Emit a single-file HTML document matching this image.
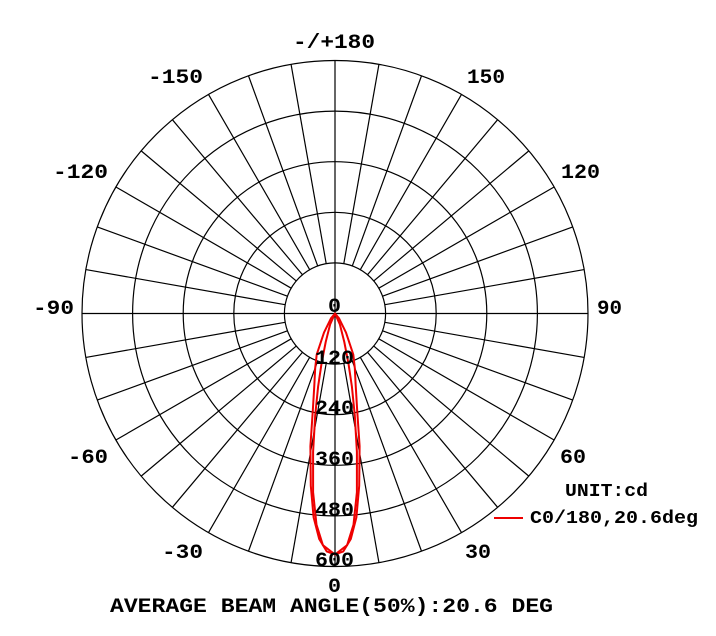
<!DOCTYPE html>
<html><head><style>html,body{margin:0;padding:0;background:#fff}</style></head>
<body>
<svg width="716" height="631" xmlns="http://www.w3.org/2000/svg" font-family="Liberation Mono, monospace" font-weight="bold">
<defs><line id="sp" x1="335" y1="262.9" x2="335" y2="60.5" stroke="#000" stroke-width="1.2"/></defs>
<rect width="716" height="631" fill="#fff"/>
<g stroke="#000" stroke-width="1.2" fill="none">
<circle cx="335" cy="313.5" r="50.6"/><circle cx="335" cy="313.5" r="101.2"/><circle cx="335" cy="313.5" r="151.8"/><circle cx="335" cy="313.5" r="202.4"/><circle cx="335" cy="313.5" r="253"/>
<line x1="335" y1="60.5" x2="335" y2="566.5"/><line x1="82" y1="313.5" x2="588" y2="313.5"/>
</g>
<use href="#sp" transform="rotate(10 335 313.5)"/><use href="#sp" transform="rotate(20 335 313.5)"/><use href="#sp" transform="rotate(30 335 313.5)"/><use href="#sp" transform="rotate(40 335 313.5)"/><use href="#sp" transform="rotate(50 335 313.5)"/><use href="#sp" transform="rotate(60 335 313.5)"/><use href="#sp" transform="rotate(70 335 313.5)"/><use href="#sp" transform="rotate(80 335 313.5)"/>
<use href="#sp" transform="rotate(100 335 313.5)"/><use href="#sp" transform="rotate(110 335 313.5)"/><use href="#sp" transform="rotate(120 335 313.5)"/><use href="#sp" transform="rotate(130 335 313.5)"/><use href="#sp" transform="rotate(140 335 313.5)"/><use href="#sp" transform="rotate(150 335 313.5)"/><use href="#sp" transform="rotate(160 335 313.5)"/><use href="#sp" transform="rotate(170 335 313.5)"/>
<use href="#sp" transform="rotate(190 335 313.5)"/><use href="#sp" transform="rotate(200 335 313.5)"/><use href="#sp" transform="rotate(210 335 313.5)"/><use href="#sp" transform="rotate(220 335 313.5)"/><use href="#sp" transform="rotate(230 335 313.5)"/><use href="#sp" transform="rotate(240 335 313.5)"/><use href="#sp" transform="rotate(250 335 313.5)"/><use href="#sp" transform="rotate(260 335 313.5)"/>
<use href="#sp" transform="rotate(280 335 313.5)"/><use href="#sp" transform="rotate(290 335 313.5)"/><use href="#sp" transform="rotate(300 335 313.5)"/><use href="#sp" transform="rotate(310 335 313.5)"/><use href="#sp" transform="rotate(320 335 313.5)"/><use href="#sp" transform="rotate(330 335 313.5)"/><use href="#sp" transform="rotate(340 335 313.5)"/><use href="#sp" transform="rotate(350 335 313.5)"/>
<g stroke="#e00" stroke-width="2" fill="none" stroke-linejoin="round">
<polygon points="335,554.5 343.3,551.4 350.8,539 356.4,517.4 359.2,485.8 359.6,446.2 357.1,409 355.7,385.6 354.8,368 353.3,354.6 346,332.6 338.9,318.1 335,313.5 331.1,318.1 324,332.6 316.7,354.6 315.2,368 314.3,385.6 312.9,409 310.4,446.2 310.8,485.8 313.6,517.4 319.2,539 326.7,551.4"/>
<polygon points="335,554.5 347.1,545.2 353.5,524.7 356.9,492.2 356.9,451.8 354.8,415.6 351.9,386.6 348.5,363.7 344.3,342 339.9,324.5 335,313.5 330.1,324.5 325.7,342 321.5,363.7 318.1,386.6 315.2,415.6 313.1,451.8 313.1,492.2 316.5,524.7 322.9,545.2"/>
</g>
<g font-size="20" fill="#000">
<text x="293" y="48" textLength="82" lengthAdjust="spacingAndGlyphs">-/+180</text>
<text x="148" y="83" textLength="55" lengthAdjust="spacingAndGlyphs">-150</text>
<text x="467" y="83" textLength="38" lengthAdjust="spacingAndGlyphs">150</text>
<text x="53" y="178" textLength="55" lengthAdjust="spacingAndGlyphs">-120</text>
<text x="561" y="178" textLength="39" lengthAdjust="spacingAndGlyphs">120</text>
<text x="33" y="314" textLength="41" lengthAdjust="spacingAndGlyphs">-90</text>
<text x="597" y="314" textLength="25" lengthAdjust="spacingAndGlyphs">90</text>
<text x="68" y="463" textLength="40" lengthAdjust="spacingAndGlyphs">-60</text>
<text x="560" y="463" textLength="26" lengthAdjust="spacingAndGlyphs">60</text>
<text x="162" y="558" textLength="41" lengthAdjust="spacingAndGlyphs">-30</text>
<text x="465" y="558" textLength="26" lengthAdjust="spacingAndGlyphs">30</text>
<text x="328" y="592" textLength="13" lengthAdjust="spacingAndGlyphs">0</text>
<text x="328" y="312" textLength="13" lengthAdjust="spacingAndGlyphs">0</text>
<text x="315" y="364" textLength="39" lengthAdjust="spacingAndGlyphs">120</text>
<text x="315" y="414" textLength="39" lengthAdjust="spacingAndGlyphs">240</text>
<text x="315" y="465" textLength="39" lengthAdjust="spacingAndGlyphs">360</text>
<text x="315" y="516" textLength="39" lengthAdjust="spacingAndGlyphs">480</text>
<text x="315" y="566" textLength="39" lengthAdjust="spacingAndGlyphs">600</text>
<text x="110" y="612" textLength="443" lengthAdjust="spacingAndGlyphs">AVERAGE BEAM ANGLE(50%):20.6 DEG</text>
<text x="565" y="496" font-size="18" textLength="83" lengthAdjust="spacingAndGlyphs">UNIT:cd</text>
<text x="530" y="523" font-size="18" textLength="168" lengthAdjust="spacingAndGlyphs">C0/180,20.6deg</text>
</g>
<line x1="494" y1="518" x2="523" y2="518" stroke="#e00" stroke-width="2"/>
</svg>
</body></html>
